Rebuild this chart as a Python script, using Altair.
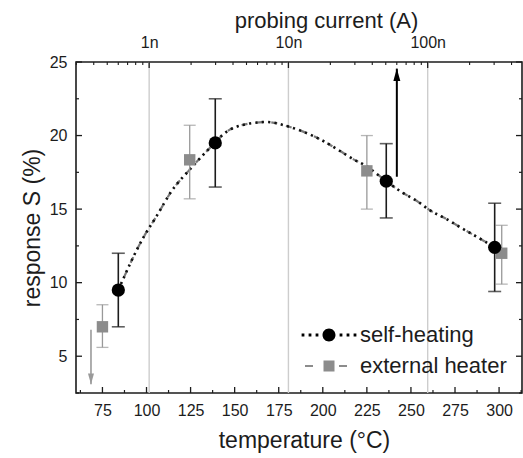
import altair as alt
import pandas as pd

FONT = "Liberation Sans"
INK = "#1c1c1c"
GREY = "#8c8c8c"

# ---- measurements -------------------------------------------------------
# self-heating (black circles)
sh_temp = [84, 139, 236, 297.5]
sh_resp = [9.5, 19.5, 16.9, 12.4]
sh_lo = [7.0, 16.5, 14.4, 9.4]
sh_hi = [12.0, 22.5, 19.45, 15.4]

# external heater (grey squares)
eh_temp = [75, 124.5, 225, 301.5]
eh_resp = [7.0, 18.35, 17.6, 12.0]
eh_lo = [5.6, 15.7, 15.0, 9.9]
eh_hi = [8.5, 20.7, 20.0, 13.9]

# guide curve through the data
curve_temp = [84, 98.1, 105.7, 114.2, 124.6, 138.7, 143.5, 155.9, 168.2, 179.5,
              188.1, 200.3, 209.8, 217.4, 223.1, 236, 243.9, 254.3, 260, 270.5,
              280, 288.4, 297.5]
curve_resp = [9.5, 13.05, 14.52, 16.22, 17.7, 19.5, 20.08, 20.76, 20.92, 20.65,
              20.3, 19.63, 18.95, 18.38, 18.04, 16.9, 16.22, 15.48, 14.98, 14.3,
              13.62, 13.05, 12.4]

# limit arrows: (temperature, start, tip)
up_arrow = {"T": [242], "from": [17.2], "to": [24.55]}
down_arrow = {"T": [68.5], "from": [6.8], "to": [3.1]}

# ---- axes ---------------------------------------------------------------
temp_labels = [75, 100, 125, 150, 175, 200, 225, 250, 275, 300]
temp_minor = [62.5, 87.5, 112.5, 137.5, 162.5, 187.5, 212.5, 237.5, 262.5,
              287.5, 312.5]
resp_labels = [5, 10, 15, 20, 25]
resp_minor = [2.5, 7.5, 12.5, 17.5, 22.5]
current_major = [1e-9, 1e-8, 1e-7]
current_minor = [3e-10, 4e-10, 5e-10, 6e-10, 7e-10, 8e-10, 9e-10,
                 2e-9, 3e-9, 4e-9, 5e-9, 6e-9, 7e-9, 8e-9, 9e-9,
                 2e-8, 3e-8, 4e-8, 5e-8, 6e-8, 7e-8, 8e-8, 9e-8,
                 2e-7, 3e-7, 4e-7]
current_labels = ["1n", "10n", "100n"]

W, H = 446, 331
temp_scale = alt.Scale(domain=[60, 313], nice=False, zero=False)
resp_scale = alt.Scale(domain=[2.5, 25], nice=False, zero=False)
current_scale = alt.Scale(type="log", domain=[2.983e-10, 4.756e-7], nice=False)

sh = pd.DataFrame({"T": sh_temp, "S": sh_resp, "lo": sh_lo, "hi": sh_hi})
eh = pd.DataFrame({"T": eh_temp, "S": eh_resp, "lo": eh_lo, "hi": eh_hi})
curve = pd.DataFrame({"T": curve_temp, "S": curve_resp})
legend_df = pd.DataFrame({
    "T": sh_temp[:1] + eh_temp[:1],
    "S": sh_resp[:1] + eh_resp[:1],
    "series": ["self-heating", "external heater"],
})

bottom_axis = alt.Axis(values=temp_labels, format="d", title="temperature (°C)",
                       ticks=False, domain=False, grid=False,
                       labelFontSize=16, titleFontSize=23, labelPadding=9,
                       titlePadding=11, titleX=228, labelFont=FONT, titleFont=FONT,
                       labelColor=INK, titleColor=INK, titleFontWeight="normal")
left_axis = alt.Axis(values=resp_labels, format="d", title="response S (%)",
                     ticks=False, domain=False, grid=False,
                     labelFontSize=16, titleFontSize=23, labelPadding=9,
                     titlePadding=5, labelFont=FONT, titleFont=FONT,
                     labelColor=INK, titleColor=INK, titleFontWeight="normal")
top_axis = alt.Axis(orient="top", values=current_major,
                    labelExpr="datum.value < 5e-9 ? '" + current_labels[0] +
                    "' : datum.value < 5e-8 ? '" + current_labels[1] +
                    "' : '" + current_labels[2] + "'",
                    title="probing current (A)", ticks=False, domain=False,
                    grid=False, labelFontSize=16, titleFontSize=22,
                    labelPadding=12, titlePadding=2, titleX=250, labelFont=FONT,
                    titleFont=FONT, labelColor=INK, titleColor=INK,
                    titleFontWeight="normal")


def tx(field="T"):
    return alt.X(f"{field}:Q", scale=temp_scale, axis=bottom_axis)


def ry(field="S"):
    return alt.Y(f"{field}:Q", scale=resp_scale, axis=left_axis)


def cx(field="v"):
    return alt.X(f"{field}:Q", scale=current_scale, axis=top_axis)


def vals(v):
    return pd.DataFrame({"v": v})


# ---- temperature-scale layers ------------------------------------------
bottom_major = alt.Chart(vals(temp_labels)).mark_rule(color=INK, strokeWidth=1.3).encode(
    x=tx("v"), y=alt.value(H), y2=alt.value(H - 6))
bottom_minor = alt.Chart(vals(temp_minor)).mark_rule(color=INK, strokeWidth=1.2).encode(
    x=tx("v"), y=alt.value(H), y2=alt.value(H - 3))
left_major = alt.Chart(vals(resp_labels)).mark_rule(color=INK, strokeWidth=1.3).encode(
    y=ry("v"), x=alt.value(0), x2=alt.value(6))
left_minor = alt.Chart(vals(resp_minor)).mark_rule(color=INK, strokeWidth=1.2).encode(
    y=ry("v"), x=alt.value(0), x2=alt.value(3))
right_major = alt.Chart(vals(resp_labels)).mark_rule(color=INK, strokeWidth=1.3).encode(
    y=ry("v"), x=alt.value(W), x2=alt.value(W - 6))
right_minor = alt.Chart(vals(resp_minor)).mark_rule(color=INK, strokeWidth=1.2).encode(
    y=ry("v"), x=alt.value(W), x2=alt.value(W - 3))

curve_grey = alt.Chart(curve).mark_line(
    color="#7a7a7a", strokeWidth=2.2, strokeDash=[6, 9], interpolate="monotone"
).encode(x=tx(), y=ry())
curve_black = alt.Chart(curve).mark_line(
    color="#111111", strokeWidth=2.6, strokeDash=[2.2, 4.2], interpolate="monotone"
).encode(x=tx(), y=ry())

eh_bar = alt.Chart(eh).mark_rule(color="#999999", strokeWidth=1.3).encode(
    x=tx(), y=ry("lo"), y2="hi:Q")
eh_cap_lo = alt.Chart(eh).mark_tick(color="#999999", thickness=1.3, size=12,
                                    orient="horizontal").encode(x=tx(), y=ry("lo"))
eh_cap_hi = alt.Chart(eh).mark_tick(color="#999999", thickness=1.3, size=12,
                                    orient="horizontal").encode(x=tx(), y=ry("hi"))
eh_pts = alt.Chart(eh).mark_point(shape="square", filled=True, size=130,
                                  color=GREY, opacity=1).encode(x=tx(), y=ry())

sh_bar = alt.Chart(sh).mark_rule(color=INK, strokeWidth=1.6).encode(
    x=tx(), y=ry("lo"), y2="hi:Q")
sh_cap_lo = alt.Chart(sh).mark_tick(color=INK, thickness=1.6, size=13,
                                    orient="horizontal").encode(x=tx(), y=ry("lo"))
sh_cap_hi = alt.Chart(sh).mark_tick(color=INK, thickness=1.6, size=13,
                                    orient="horizontal").encode(x=tx(), y=ry("hi"))
sh_pts = alt.Chart(sh).mark_point(shape="circle", filled=True, size=175,
                                  color="#000000", opacity=1).encode(x=tx(), y=ry())

up_df = pd.DataFrame(up_arrow)
down_df = pd.DataFrame(down_arrow)
up_shaft = alt.Chart(up_df).mark_rule(color="#000000", strokeWidth=2).encode(
    x=tx(), y=ry("from"), y2="to:Q")
up_head = alt.Chart(up_df).mark_point(
    shape="M0,0L-0.45,1.6L0.45,1.6Z", filled=True, size=240, color="#000000",
    opacity=1, strokeWidth=0
).encode(x=tx(), y=ry("to"))
down_shaft = alt.Chart(down_df).mark_rule(color="#9a9a9a", strokeWidth=1.6).encode(
    x=tx(), y=ry("from"), y2="to:Q")
down_head = alt.Chart(down_df).mark_point(
    shape="M0,0L-0.45,-1.6L0.45,-1.6Z", filled=True, size=180, color="#9a9a9a",
    opacity=1, strokeWidth=0
).encode(x=tx(), y=ry("to"))

# legend glyphs (14 px per path unit): dotted line through a circle,
# dashed line through a square
dots = "".join(f"M{c - 0.1:.3f},-0.1h0.2v0.2h-0.2Z"
               for c in (-1.857, -1.357, -0.857, 0.857, 1.357, 1.857))
sym_self = "M-0.464,0A0.464,0.464 0 1,0 0.464,0A0.464,0.464 0 1,0 -0.464,0Z" + dots
sym_ext = ("M-0.393,-0.393h0.786v0.786h-0.786Z"
           "M-1.714,-0.071h0.571v0.142h-0.571Z"
           "M0.714,-0.071h0.571v0.142h-0.571Z")

legend_spec = alt.Legend(title=None, orient="none", legendX=239, legendY=259,
                         symbolSize=784, symbolStrokeWidth=0, symbolOpacity=1,
                         labelFontSize=22, labelFont=FONT, labelColor=INK,
                         labelOffset=17, rowPadding=6, padding=0)
series_domain = ["self-heating", "external heater"]
legend_layer = alt.Chart(legend_df).mark_point(filled=True, opacity=0).encode(
    x=tx(), y=ry(),
    shape=alt.Shape("series:N", scale=alt.Scale(domain=series_domain,
                                                range=[sym_self, sym_ext]),
                    legend=legend_spec),
    color=alt.Color("series:N", scale=alt.Scale(domain=series_domain,
                                                range=["#000000", GREY]),
                    legend=legend_spec),
)

temp_group = alt.layer(
    bottom_major, bottom_minor, left_major, left_minor, right_major, right_minor,
    curve_grey, curve_black,
    eh_bar, eh_cap_lo, eh_cap_hi, eh_pts,
    down_shaft, down_head,
    sh_bar, sh_cap_lo, sh_cap_hi, sh_pts,
    up_shaft, up_head,
    legend_layer,
)

# ---- probing-current (log) layers --------------------------------------
grid = alt.Chart(vals(current_major)).mark_rule(color="#cdcdcd", strokeWidth=1.4).encode(
    x=cx())
top_major = alt.Chart(vals(current_major)).mark_rule(color=INK, strokeWidth=1.3).encode(
    x=cx(), y=alt.value(0), y2=alt.value(6))
top_minor = alt.Chart(vals(current_minor)).mark_rule(color=INK, strokeWidth=1.1).encode(
    x=cx(), y=alt.value(0), y2=alt.value(3))
current_group = alt.layer(grid, top_major, top_minor)

chart = alt.layer(current_group, temp_group).resolve_scale(
    x="independent"
).properties(
    width=W, height=H,
    autosize=alt.AutoSizeParams(type="none"),
    padding={"left": 76, "top": 62, "right": 1, "bottom": 65},
    background="white",
).configure_view(stroke=INK, strokeWidth=1.6)

chart.save("out.html", embed_options={"renderer": "svg", "actions": False})
